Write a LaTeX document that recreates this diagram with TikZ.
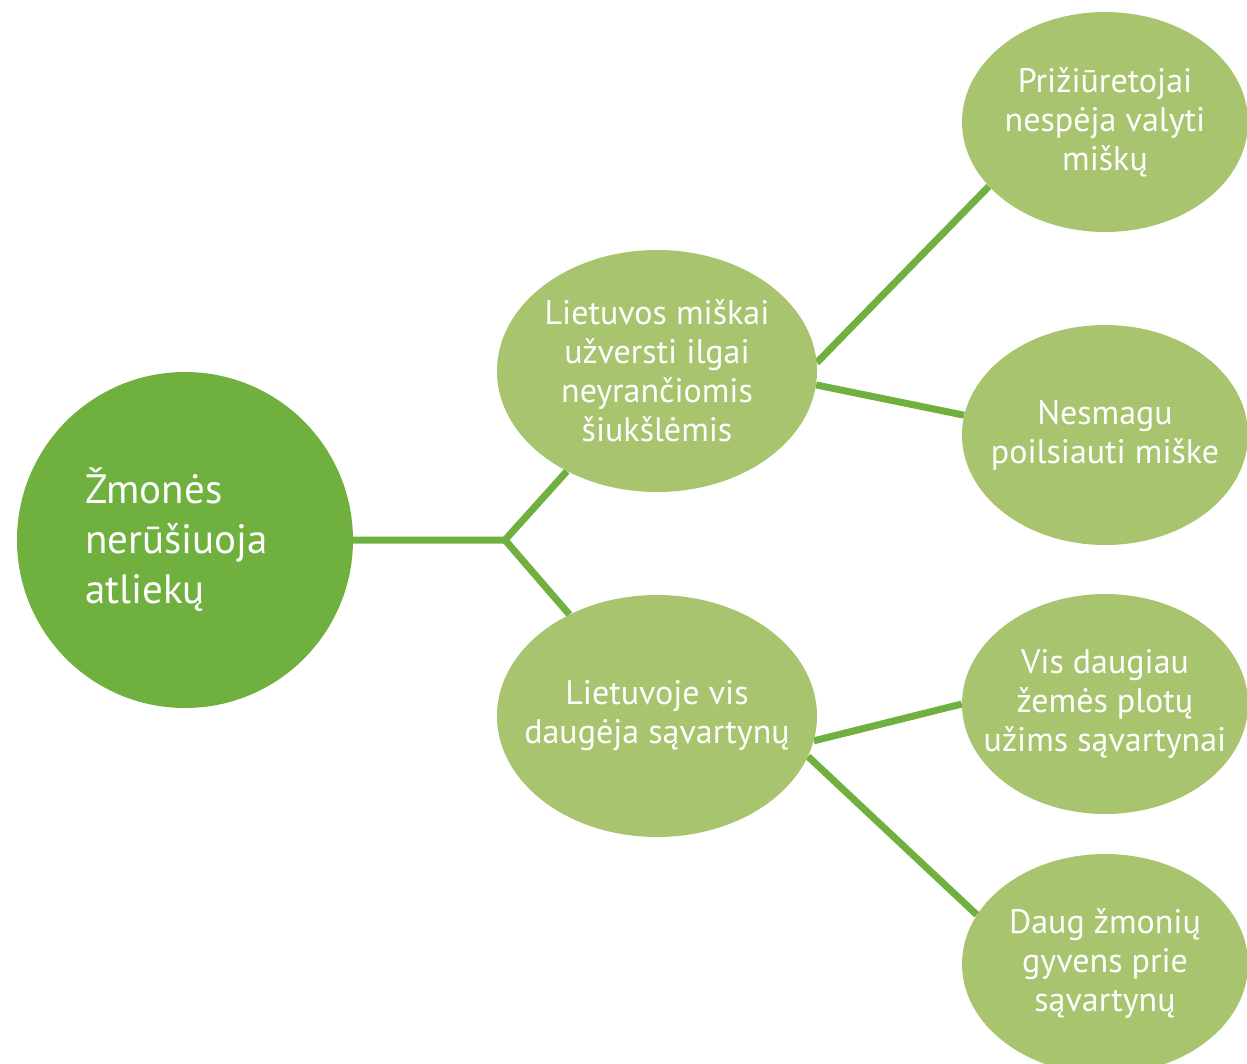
\documentclass[tikz,border=0pt]{standalone}
\usepackage{fontspec}
\setmainfont{PT Sans}
\usetikzlibrary{shapes.geometric,backgrounds}
\definecolor{darkleaf}{RGB}{112,176,63}
\definecolor{lightleaf}{RGB}{168,196,110}

\begin{document}
\begin{tikzpicture}[
		x=1pt, y=-1pt,
		rootnode/.style={circle, fill=darkleaf, text=white, minimum size=336pt, inner sep=0pt, text width=200pt, align=left, font=\fontsize{41}{50}\selectfont},
		midnode/.style={ellipse, fill=lightleaf, minimum width=320pt, minimum height=242pt, inner sep=0pt,
			label={[nodetext]center:#1}},
		leafnode/.style={midnode=#1, minimum width=286pt, minimum height=220pt},
		nodetext/.style={text=white, align=center, inner sep=0pt, font=\fontsize{34}{39}\selectfont},
		link/.style={draw=darkleaf, line width=7pt}
	]
	\useasboundingbox (0,0) rectangle (1247,1063);
	\clip (0,0) rectangle (1247,1063);
	\node[rootnode] (root) at (185,540) {Žmonės\\ nerūšiuoja\\ atliekų};
	\node[midnode={Lietuvos miškai\\ užversti ilgai\\ neyrančiomis\\ šiukšlėmis}] (forest) at (657,371) {};
	\node[midnode={Lietuvoje vis\\ daugėja sąvartynų}] (dumps) at (657,716) {};
	\node[leafnode={Prižiūretojai\\ nespėja valyti\\ miškų}] (keepers) at (1105,122) {};
	\node[leafnode={Nesmagu\\ poilsiauti miške}] (rest) at (1105,435) {};
	\node[leafnode={Vis daugiau\\ žemės plotų\\ užims sąvartynai}] (land) at (1105,704) {};
	\node[leafnode={Daug žmonių\\ gyvens prie\\ sąvartynų}] (people) at (1105,964) {};
	\coordinate (fork) at (505,540);
	\begin{scope}[on background layer]
		\draw[link] (root.east) -- (fork) -- (forest);
		\draw[link] (fork) -- (dumps);
		\draw[link] (forest.3) -- (keepers.209);
		\draw[link] (forest.-5) -- (rest.172);
		\draw[link] (dumps.-9) -- (land.west);
		\draw[link] (dumps.-15) -- (people.159);
	\end{scope}
\end{tikzpicture}
\end{document}
